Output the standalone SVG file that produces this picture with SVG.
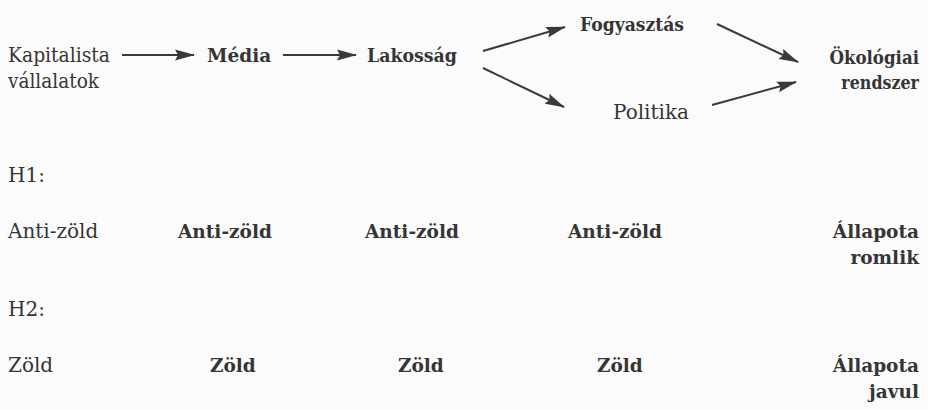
<svg xmlns="http://www.w3.org/2000/svg" width="928" height="410" viewBox="0 0 928 410">
<defs>
<style>
text{font-family:"DejaVu Serif",serif;font-size:20px;fill:#353535}
.b{font-weight:bold;font-size:18.5px}
.r{text-anchor:end}
.c{stroke:#3a3a3a;stroke-width:2;fill:none}
</style>
<marker id="ah" markerUnits="userSpaceOnUse" markerWidth="20" markerHeight="12" refX="19" refY="6" orient="auto">
<path d="M0,0.5 L20,6 L0,11.5 L3,6 z" fill="#3a3a3a"/>
</marker>
</defs>
<rect width="928" height="410" fill="#fbfbfb"/>
<g id="connectors">
<line class="c" x1="122" y1="55" x2="194" y2="55" marker-end="url(#ah)"/>
<line class="c" x1="283" y1="55" x2="356" y2="55" marker-end="url(#ah)"/>
<line class="c" x1="483" y1="51" x2="565" y2="27" marker-end="url(#ah)"/>
<line class="c" x1="483" y1="68" x2="564" y2="107" marker-end="url(#ah)"/>
<line class="c" x1="717" y1="24" x2="798" y2="62" marker-end="url(#ah)"/>
<line class="c" x1="712" y1="105" x2="796" y2="82" marker-end="url(#ah)"/>
</g>
<g id="kapitalista"><text x="8" y="62" textLength="102" lengthAdjust="spacingAndGlyphs">Kapitalista</text><text x="8" y="88" textLength="91" lengthAdjust="spacingAndGlyphs">vállalatok</text></g>
<g id="media"><text class="b" x="207" y="62">Média</text></g>
<g id="lakossag"><text class="b" x="367" y="62" textLength="90" lengthAdjust="spacingAndGlyphs">Lakosság</text></g>
<g id="fogyasztas"><text class="b" x="580" y="31" textLength="104" lengthAdjust="spacingAndGlyphs">Fogyasztás</text></g>
<g id="politika"><text x="613" y="119">Politika</text></g>
<g id="okologiai"><text class="b r" transform="translate(919,64) scale(0.9,1)">Ökológiai</text><text class="b r" transform="translate(919,89) scale(0.86,1)">rendszer</text></g>
<g id="h1"><text x="8" y="182">H1:</text></g>
<g id="h1-row">
<text x="8" y="238">Anti-zöld</text>
<text class="b" x="178" y="238">Anti-zöld</text>
<text class="b" x="365" y="238">Anti-zöld</text>
<text class="b" x="568" y="238">Anti-zöld</text>
<text class="b r" x="919" y="238">Állapota</text>
<text class="b r" x="919" y="264">romlik</text>
</g>
<g id="h2"><text x="8" y="316">H2:</text></g>
<g id="h2-row">
<text x="8" y="372">Zöld</text>
<text class="b" x="210" y="372">Zöld</text>
<text class="b" x="398" y="372">Zöld</text>
<text class="b" x="597" y="372">Zöld</text>
<text class="b r" x="919" y="372">Állapota</text>
<text class="b r" x="919" y="398">javul</text>
</g>
</svg>
